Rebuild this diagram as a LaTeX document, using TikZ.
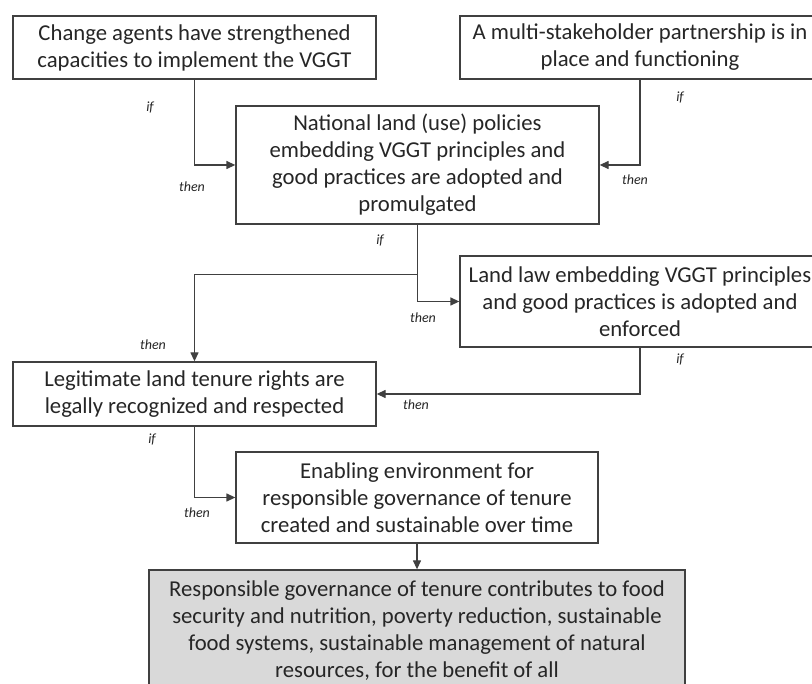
\documentclass[tikz,border=0pt]{standalone}
\usepackage{fontspec}
\setmainfont{Carlito}
\usepackage{tikz}
\usetikzlibrary{arrows.meta, positioning, calc}
\usepackage{xcolor}
\definecolor{BoxLine}{HTML}{404040}
\definecolor{BoxText}{HTML}{262626}
\definecolor{GoalFill}{HTML}{D9D9D9}
\tikzset{
    % Node styles
    stepbox/.style={
        rectangle,
        draw=BoxLine,
        fill=white,
        line width=1.3pt,
        inner sep=0pt,
        align=center,
        text=BoxText,
        font=\fontsize{22.7}{27}\selectfont
    },
    goalbox/.style={
        stepbox,
        fill=GoalFill
    },
    % Arrow style
    linkarrow/.style={
        -{Triangle[length=9pt,width=8pt]},
        draw=BoxLine,
        line width=1.3pt
    },
    % Condition labels
    condlabel/.style={
        font=\fontsize{14}{16}\selectfont\itshape,
        text=BoxText,
        inner sep=0pt
    }
}
\begin{document}
\begin{tikzpicture}[x=1pt, y=-1pt]
    \useasboundingbox (0,0) rectangle (812,684);

    % Boxes
    \node[stepbox, minimum width=363, minimum height=63] (agents) at (194.5,47.5)
        {Change agents have strengthened\\capacities to implement the VGGT};
    \node[stepbox, minimum width=360, minimum height=63] (partner) at (640,47.5)
        {A multi-stakeholder partnership is in\\place and functioning};
    \node[stepbox, minimum width=363, minimum height=118] (policy) at (417.5,165)
        {National land (use) policies\\embedding VGGT principles and\\good practices are adopted and\\promulgated};
    \node[stepbox, minimum width=360, minimum height=91] (law) at (640,301.5)
        {Land law embedding VGGT principles\\and good practices is adopted and\\enforced};
    \node[stepbox, minimum width=363, minimum height=64] (rights) at (194.5,394)
        {Legitimate land tenure rights are\\legally recognized and respected};
    \node[stepbox, minimum width=362, minimum height=91] (enabling) at (417,497.5)
        {Enabling environment for\\responsible governance of tenure\\created and sustainable over time};
    \node[goalbox, minimum width=536, minimum height=122] (goal) at (417,631)
        {Responsible governance of tenure contributes to food\\security and nutrition, poverty reduction, sustainable\\food systems, sustainable management of natural\\resources, for the benefit of all};

    % Connectors
    \coordinate (split) at ($(policy.south)+(0,50)$);
    \draw[linkarrow] (agents.south) |- (policy.west);
    \draw[linkarrow] (partner.south) |- (policy.east);
    \draw[linkarrow] (policy.south) -- (split) -| (rights.north);
    \draw[linkarrow] (split) |- (law.west);
    \draw[linkarrow] (law.south) |- (rights.east);
    \draw[linkarrow] (rights.south) |- (enabling.west);
    \draw[linkarrow] (enabling.south) -- (goal.north);

    % if / then labels
    \node[condlabel] (if1) at (150,108) {if};
    \node[condlabel] (then1) at (192,187) {then};
    \node[condlabel] (if2) at (680,98) {if};
    \node[condlabel] (then2) at (635,180) {then};
    \node[condlabel] (if3) at (380,241) {if};
    \node[condlabel] (then3) at (153,345) {then};
    \node[condlabel] (then4) at (423,318) {then};
    \node[condlabel] (if4) at (680,360) {if};
    \node[condlabel] (then5) at (416,405) {then};
    \node[condlabel] (if5) at (152,440) {if};
    \node[condlabel] (then6) at (197,513) {then};
\end{tikzpicture}
\end{document}
